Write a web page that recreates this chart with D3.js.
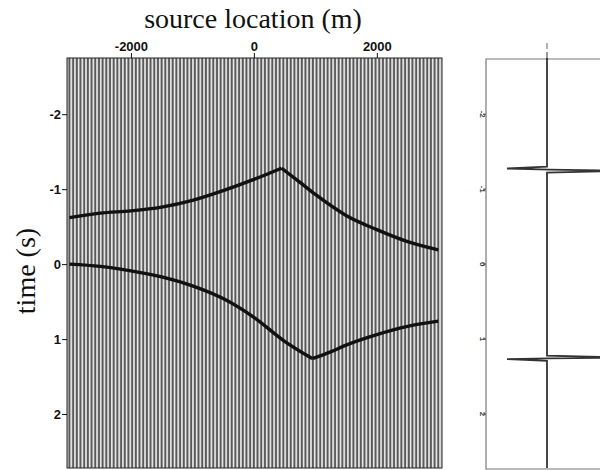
<!DOCTYPE html>
<html>
<head>
<meta charset="utf-8">
<script src="https://cdn.jsdelivr.net/npm/d3@7"></script>
<style>
body { margin: 0; background: #fff; }
.axis text { font-family: "Liberation Sans", Arial, sans-serif; font-weight: bold; font-size: 13px; fill: #111; }
.axis line { stroke: #111; }
.label { font-family: "Liberation Serif", "Times New Roman", serif; font-size: 28px; fill: #111; }
</style>
</head>
<body>
<svg width="600" height="470"></svg>
<script>
// traces: source locations (m)
var traceX = d3.range(-3000, 3001, 60);

// upper event (acausal), picked off the gather
var upperX = [-3000, -2500, -2000, -1500, -1000, -500, 0, 450, 750, 1000, 1500, 2000, 2500, 3000];
var upperT = [-0.62, -0.68, -0.71, -0.76, -0.85, -0.98, -1.13, -1.28, -1.09, -0.93, -0.65, -0.46, -0.30, -0.19];

// lower event (causal)
var lowerX = [-3000, -2500, -2000, -1500, -1000, -500, 0, 500, 950, 1250, 1500, 2000, 2500, 3000];
var lowerT = [0.0, 0.03, 0.09, 0.17, 0.29, 0.46, 0.71, 1.03, 1.26, 1.17, 1.08, 0.94, 0.83, 0.76];

// stacked trace on the right panel: time / amplitude
var stackT = [-2.75, -1.30, -1.276, -1.262, -1.244, -1.22, 1.22, 1.247, 1.257, 1.267, 1.29, 2.72];
var stackA = [0, 0, -1, 0.05, 1.9, 0, 0, 1.9, 0.05, -1, 0, 0];

var xTicks = [-2000, 0, 2000];
var tTicks = [-2, -1, 0, 1, 2];

var svg = d3.select("svg");

var x = d3.scaleLinear().domain([-3040, 3060]).range([67, 442]);
var y = d3.scaleLinear().domain([-2.75, 2.72]).range([58, 468]);
// right panel amplitude scale
var a = d3.scaleLinear().domain([-1, 1]).range([507, 587]);

svg.append("clipPath").attr("id", "clipL")
    .append("rect").attr("x", 67).attr("y", 58).attr("width", 375).attr("height", 410);

var gL = svg.append("g").attr("clip-path", "url(#clipL)");

// 背景
gL.append("rect")
    .attr("x", 67).attr("y", 58).attr("width", 375).attr("height", 410)
    .attr("fill", "#c4c4c4");

// traces
gL.selectAll("line.trace")
    .data(traceX)
    .enter().append("line")
    .attr("class", "trace")
    .attr("x1", function(d) { return x(d); })
    .attr("x2", function(d) { return x(d); })
    .attr("y1", 58).attr("y2", 468)
    .attr("stroke", "#595959")
    .attr("stroke-width", 1.8);

gL.selectAll("line.gap")
    .data(traceX)
    .enter().append("line")
    .attr("class", "gap")
    .attr("x1", function(d) { return x(d) + 1.7; })
    .attr("x2", function(d) { return x(d) + 1.7; })
    .attr("y1", 58).attr("y2", 468)
    .attr("stroke", "#f4f4f4")
    .attr("stroke-width", 0.8);

// events: split at the apex so the cusp stays sharp
var line = d3.line()
    .x(function(d) { return x(d[0]); })
    .y(function(d) { return y(d[1]); })
    .curve(d3.curveMonotoneX);

function drawEvent(xs, ts, apex) {
  var pts = d3.zip(xs, ts);
  var k = xs.indexOf(apex);
  [pts.slice(0, k + 1), pts.slice(k)].forEach(function(p) {
    gL.append("path")
        .attr("d", line(p))
        .attr("fill", "none")
        .attr("stroke", "#111")
        .attr("stroke-width", 3.4)
        .attr("stroke-linejoin", "round");
  });
}
drawEvent(upperX, upperT, 450);
drawEvent(lowerX, lowerT, 950);

// frame
svg.append("rect")
    .attr("x", 67).attr("y", 58).attr("width", 375).attr("height", 410)
    .attr("fill", "none").attr("stroke", "#222").attr("stroke-width", 1);

// axes
svg.append("g")
    .attr("class", "axis")
    .attr("transform", "translate(0,58)")
    .call(d3.axisTop(x).tickValues(xTicks).tickSize(5).tickPadding(2)
        .tickFormat(function(d) { return String(d); }))
    .call(function(g) { g.select(".domain").remove(); });

svg.append("g")
    .attr("class", "axis")
    .attr("transform", "translate(67,0)")
    .call(d3.axisLeft(y).tickValues(tTicks).tickSize(5).tickPadding(1)
        .tickFormat(function(d) { return String(d); }))
    .call(function(g) { g.select(".domain").remove(); });

svg.append("text")
    .attr("class", "label")
    .attr("x", 253).attr("y", 28)
    .attr("text-anchor", "middle")
    .text("source location (m)");

svg.append("text")
    .attr("class", "label")
    .attr("transform", "translate(35,271) rotate(-90)")
    .attr("text-anchor", "middle")
    .text("time (s)");

// 右パネル（スタック）
var gR = svg.append("g");

gR.append("path")
    .attr("d", "M620,59H486V469H620")
    .attr("fill", "none").attr("stroke", "#777").attr("stroke-width", 1.2);

gR.append("line")
    .attr("x1", a(0)).attr("x2", a(0)).attr("y1", 52).attr("y2", 59)
    .attr("stroke", "#333");
gR.append("line")
    .attr("x1", a(0)).attr("x2", a(0)).attr("y1", 43).attr("y2", 49)
    .attr("stroke", "#666").attr("stroke-width", 1);

gR.selectAll("line.rtick")
    .data(tTicks)
    .enter().append("line")
    .attr("class", "rtick")
    .attr("x1", 483).attr("x2", 486)
    .attr("y1", function(d) { return y(d); })
    .attr("y2", function(d) { return y(d); })
    .attr("stroke", "#555");

gR.selectAll("text.rt")
    .data(tTicks)
    .enter().append("text")
    .attr("class", "rt")
    .attr("transform", function(d) { return "translate(480," + y(d) + ") rotate(90)"; })
    .attr("text-anchor", "middle")
    .attr("font-family", "Liberation Sans, sans-serif")
    .attr("font-weight", "bold")
    .attr("font-size", 8).attr("fill", "#444")
    .text(function(d) { return String(d); });

gR.append("path")
    .attr("d", d3.line()
        .x(function(d) { return a(d[1]); })
        .y(function(d) { return y(d[0]); })(d3.zip(stackT, stackA)))
    .attr("fill", "none")
    .attr("stroke", "#333")
    .attr("stroke-width", 1.8);
</script>
</body>
</html>
